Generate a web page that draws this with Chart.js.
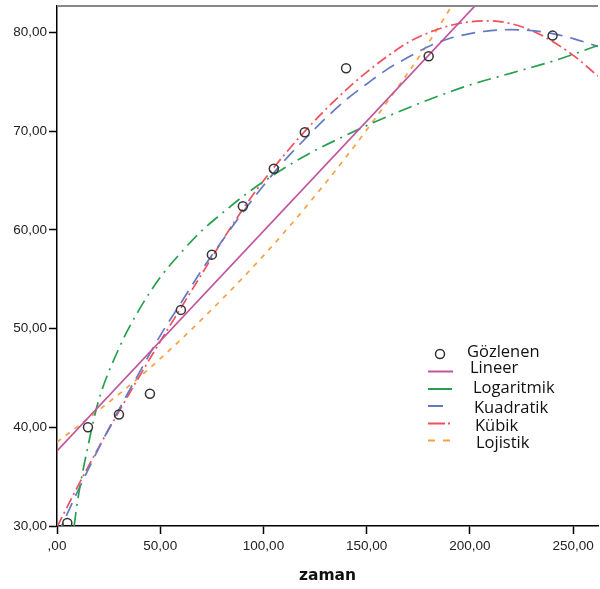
<!DOCTYPE html>
<html>
<head>
<meta charset="utf-8">
<script src="https://cdn.jsdelivr.net/npm/chart.js@4/dist/chart.umd.min.js"></script>
<style>
  html, body { margin: 0; padding: 0; width: 600px; height: 589px; overflow: hidden; background: #fff; }
  #wrap { position: absolute; left: 0; top: 0; width: 604px; height: 589px; }
  #legend { position: absolute; left: 0; top: 0; width: 600px; height: 589px; pointer-events: none; }
  .lt { position: absolute; font-family: "Open Sans", sans-serif; font-size: 16.5px; color: #111; line-height: 1; }
</style>
</head>
<body>
<div id="wrap"><canvas id="chart" width="604" height="589"></canvas></div>
<svg id="legend" width="600" height="589">
  <circle cx="440" cy="354" r="4.5" fill="none" stroke="#333" stroke-width="1.5"/>
  <line x1="428" y1="371.5" x2="453" y2="371.5" stroke="#c2549d" stroke-width="2"/>
  <line x1="428" y1="389" x2="455" y2="389" stroke="#27a04e" stroke-width="2" stroke-dasharray="24,3,2,10"/>
  <line x1="428" y1="406" x2="443" y2="406" stroke="#6479c4" stroke-width="2"/>
  <line x1="428" y1="423.5" x2="451" y2="423.5" stroke="#f0505a" stroke-width="2" stroke-dasharray="17,3,2,10"/>
  <line x1="428" y1="440.5" x2="450" y2="440.5" stroke="#f5a142" stroke-width="2" stroke-dasharray="7,8"/>
</svg>
<div class="lt" style="left:467px;top:343px">Gözlenen</div>
<div class="lt" style="left:470px;top:359px">Lineer</div>
<div class="lt" style="left:473px;top:379px">Logaritmik</div>
<div class="lt" style="left:474px;top:399px">Kuadratik</div>
<div class="lt" style="left:475px;top:417px">Kübik</div>
<div class="lt" style="left:476px;top:434px">Lojistik</div>
<script>
// observed values
const obsX = [5, 15, 30, 45, 60, 75, 90, 105, 120, 140, 180, 240];
const obsY = [30.3, 40.0, 41.3, 43.4, 51.9, 57.5, 62.4, 66.2, 69.9, 76.4, 77.6, 79.7];

// fitted curves
const linX = [0, 210];
const linY = [37.6, 84.4];

const logX = [8.3, 10, 15, 20, 30, 40, 50, 60, 70, 80, 90, 100, 120, 140, 160, 180, 200, 220, 240, 262];
const logY = [30.0, 32.6, 38.1, 42.6, 48.0, 52.0, 55.2, 57.7, 59.9, 61.7, 63.4, 64.9, 67.5, 69.6, 71.5, 73.2, 74.7, 75.9, 77.1, 78.7];

const quadX = [0, 10, 20, 30, 40, 50, 60, 70, 80, 90, 100, 110, 120, 130, 140, 150, 160, 170, 180, 190, 200, 210, 220, 230, 240, 250, 262];
const quadY = [29.0, 33.5, 37.8, 41.8, 45.6, 49.3, 52.6, 55.9, 58.9, 61.8, 64.5, 67.0, 69.2, 71.3, 73.2, 74.8, 76.3, 77.5, 78.6, 79.4, 79.9, 80.2, 80.3, 80.2, 79.9, 79.4, 78.6];

const cubX = [0, 10, 20, 30, 40, 50, 60, 70, 80, 90, 100, 110, 120, 130, 140, 150, 160, 170, 180, 190, 200, 210, 220, 230, 240, 250, 262];
const cubY = [29.9, 34.0, 37.9, 41.6, 45.2, 48.7, 52.1, 55.5, 58.9, 62.1, 65.0, 67.6, 70.0, 72.2, 74.2, 76.0, 77.6, 79.0, 80.0, 80.7, 81.1, 81.2, 80.9, 80.2, 79.1, 77.7, 75.6];

const logiX = [0, 20, 40, 60, 80, 100, 120, 140, 160, 180, 195];
const logiY = [38.5, 41.7, 45.1, 48.9, 53.0, 57.4, 62.2, 67.4, 73.0, 79.0, 84.0];

const xTicks = [0, 50, 100, 150, 200, 250];
const yTicks = [30, 40, 50, 60, 70, 80];

const pts = (xs, ys) => xs.map((x, i) => ({ x: x, y: ys[i] }));
const fmt = v => { const s = v.toFixed(2).replace('.', ','); return v === 0 ? s.slice(1) : s; };
const tickFont = { family: 'Liberation Sans', size: 13.5 };

const curve = (data, color, dash) => ({
    data: data, showLine: true, borderColor: color, borderWidth: 1.7, borderDash: dash,
    pointRadius: 0, fill: false, cubicInterpolationMode: 'monotone'
});

const topBorder = {
    id: 'topBorder',
    afterDraw(chart) {
        const { ctx, chartArea } = chart;
        ctx.save();
        ctx.strokeStyle = '#888';
        ctx.lineWidth = 2;
        ctx.beginPath();
        ctx.moveTo(chartArea.left, chartArea.top);
        ctx.lineTo(chartArea.right, chartArea.top);
        ctx.stroke();
        ctx.restore();
    }
};

new Chart(document.getElementById('chart'), {
    type: 'scatter',
    data: {
        datasets: [
            { data: pts(obsX, obsY), pointRadius: 4.5, pointBorderColor: '#333', pointBorderWidth: 1.5, pointBackgroundColor: 'rgba(0,0,0,0)', showLine: false },
            curve(pts(linX, linY), '#c2549d', []),
            curve(pts(logX, logY), '#27a04e', [14, 6, 2, 6]),
            curve(pts(quadX, quadY), '#6479c4', [14, 8]),
            curve(pts(cubX, cubY), '#f0505a', [11, 4, 2, 4]),
            curve(pts(logiX, logiY), '#f5a142', [5, 6])
        ]
    },
    options: {
        responsive: false,
        animation: false,
        layout: { padding: { top: 2, left: 0, right: 0, bottom: 0 } },
        plugins: { legend: { display: false }, tooltip: { enabled: false } },
        scales: {
            x: {
                type: 'linear', min: 0, max: 262,
                afterBuildTicks: s => { s.ticks = xTicks.map(v => ({ value: v })); },
                afterFit: s => { s.height = 63; s.paddingLeft = 0; s.paddingRight = 0; },
                border: { display: true, color: '#000', width: 1.5 },
                grid: { drawOnChartArea: false, drawTicks: true, tickLength: 8, tickColor: '#000', tickWidth: 1.5 },
                ticks: { padding: 4, font: tickFont, color: '#222', maxRotation: 0, callback: v => fmt(v) },
                title: { display: true, text: 'zaman', color: '#111', font: { family: 'DejaVu Sans', weight: 'bold', size: 15.5 }, padding: { top: 0, bottom: 4 } }
            },
            y: {
                type: 'linear', min: 30, max: 82.7,
                afterBuildTicks: s => { s.ticks = yTicks.map(v => ({ value: v })); },
                afterFit: s => { s.width = 57; s.paddingTop = 0; s.paddingBottom = 0; },
                border: { display: true, color: '#000', width: 1.5 },
                grid: { drawOnChartArea: false, drawTicks: true, tickLength: 8, tickColor: '#000', tickWidth: 1.5 },
                ticks: { padding: 2, font: tickFont, color: '#222', callback: v => fmt(v) }
            }
        }
    },
    plugins: [topBorder]
});
</script>
</body>
</html>
